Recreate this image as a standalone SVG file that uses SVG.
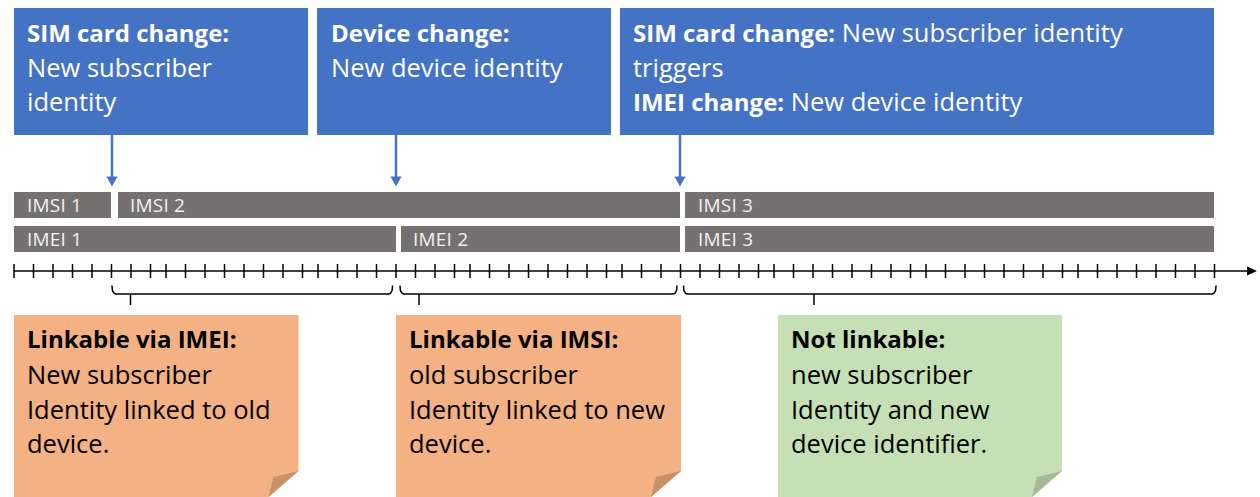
<svg xmlns="http://www.w3.org/2000/svg" width="1260" height="497" viewBox="0 0 1260 497">
<style>
.box{fill:#4472C4}
.bar{fill:#767171}
.bt{font-family:"Open Sans","Liberation Sans",sans-serif;font-size:19px;letter-spacing:0.2px;fill:#F2F2F2}
.wt{font-family:"Open Sans","Liberation Sans",sans-serif;font-size:25.5px;fill:#FFFFFF}
.nt{font-family:"Open Sans","Liberation Sans",sans-serif;font-size:25.5px;fill:#000000}
.b{font-weight:bold;font-size:24px}
.orange{fill:#F4B183}
.ofold{fill:#C8916A}
.green{fill:#C5E0B4}
.gfold{fill:#A2BB93}
.conn{stroke:#4472C4;stroke-width:2.5;fill:none}
.head{fill:#4472C4}
.axis{stroke:#000;stroke-width:1.5;fill:none}
.brace{stroke:#000;stroke-width:1.5;fill:none}
</style>

<g id="box-sim1">
<rect class="box" x="14" y="8" width="294" height="127"/>
<text class="wt" x="27" y="42"><tspan class="b">SIM card change:</tspan></text>
<text class="wt" x="27" y="77">New subscriber</text>
<text class="wt" x="27" y="111">identity</text>
</g>
<g id="box-device">
<rect class="box" x="317" y="8" width="294" height="127"/>
<text class="wt" x="331" y="42"><tspan class="b">Device change:</tspan></text>
<text class="wt" x="331" y="77">New device identity</text>
</g>
<g id="box-sim-imei">
<rect class="box" x="620" y="8" width="594" height="127"/>
<text class="wt" x="633" y="42"><tspan class="b">SIM card change:</tspan> New subscriber identity</text>
<text class="wt" x="633" y="77">triggers</text>
<text class="wt" x="633" y="111"><tspan class="b">IMEI change:</tspan> New device identity</text>
</g>

<g id="connectors">
<line class="conn" x1="112" y1="135" x2="112" y2="178"/>
<polygon class="head" points="106.5,176.5 117.5,176.5 112,186.5"/>
<line class="conn" x1="396" y1="135" x2="396" y2="178"/>
<polygon class="head" points="390.5,176.5 401.5,176.5 396,186.5"/>
<line class="conn" x1="680" y1="135" x2="680" y2="178"/>
<polygon class="head" points="674.5,176.5 685.5,176.5 680,186.5"/>
</g>

<g id="bar-imsi1"><rect class="bar" x="14" y="192" width="97" height="26"/><text class="bt" x="27" y="212">IMSI 1</text></g>
<g id="bar-imsi2"><rect class="bar" x="118" y="192" width="562" height="26"/><text class="bt" x="130" y="212">IMSI 2</text></g>
<g id="bar-imsi3"><rect class="bar" x="685" y="192" width="529" height="26"/><text class="bt" x="698" y="212">IMSI 3</text></g>
<g id="bar-imei1"><rect class="bar" x="14" y="226" width="382" height="26"/><text class="bt" x="27" y="246">IMEI 1</text></g>
<g id="bar-imei2"><rect class="bar" x="401" y="226" width="279" height="26"/><text class="bt" x="413" y="246">IMEI 2</text></g>
<g id="bar-imei3"><rect class="bar" x="685" y="226" width="529" height="26"/><text class="bt" x="698" y="246">IMEI 3</text></g>

<g id="timeline">
<line class="axis" x1="14" y1="271" x2="1249" y2="271"/>
<polygon points="1247,266.5 1257,271 1247,275.5" fill="#000"/>
<path class="axis" d="M14 264v14M33.5 264v14M53 264v14M72.5 264v14M92 264v14M111.5 264v14M131 264v14M150.5 264v14
M166 264v14M185.5 264v14M205 264v14M224.5 264v14M244 264v14M263.5 264v14M283 264v14M302.5 264v14
M318 264v14M337.5 264v14M357 264v14M376.5 264v14M396 264v14M415.5 264v14M435 264v14M454.5 264v14
M470 264v14M489.5 264v14M509 264v14M528.5 264v14M548 264v14M567.5 264v14M587 264v14M606.5 264v14
M622 264v14M641.5 264v14M661 264v14M680.5 264v14M700 264v14M719.5 264v14M739 264v14M758.5 264v14
M774 264v14M793.5 264v14M813 264v14M832.5 264v14M852 264v14M871.5 264v14M891 264v14M910.5 264v14
M926 264v14M945.5 264v14M965 264v14M984.5 264v14M1004 264v14M1023.5 264v14M1043 264v14M1062.5 264v14
M1078 264v14M1097.5 264v14M1117 264v14M1136.5 264v14M1156 264v14M1175.5 264v14M1195 264v14M1214.5 264v14"/>
</g>

<g id="braces">
<path class="brace" d="M112,285.5 Q112,294 116,294 H388.5 Q392.5,294 392.5,285.5 M130.5,294 V305"/>
<path class="brace" d="M400,285.5 Q400,294 404,294 H673 Q677,294 677,285.5 M419,294 V305"/>
<path class="brace" d="M683.5,285.5 Q683.5,294 687.5,294 H1212 Q1216,294 1216,285.5 M814,294 V305"/>
</g>

<g id="note-imei">
<path class="orange" d="M14,315 H298.5 V471 L268.5,497 H14 Z"/>
<polygon class="ofold" points="298.5,471 273.5,477 268.5,497"/>
<text class="nt" x="27" y="348"><tspan class="b">Linkable via IMEI:</tspan></text>
<text class="nt" x="27" y="384">New subscriber</text>
<text class="nt" x="27" y="418.5">Identity linked to old</text>
<text class="nt" x="27" y="453">device.</text>
</g>
<g id="note-imsi">
<path class="orange" d="M396,315 H681 V471 L651,497 H396 Z"/>
<polygon class="ofold" points="681,471 656,477 651,497"/>
<text class="nt" x="409" y="348"><tspan class="b">Linkable via IMSI:</tspan></text>
<text class="nt" x="409" y="384">old subscriber</text>
<text class="nt" x="409" y="418.5">Identity linked to new</text>
<text class="nt" x="409" y="453">device.</text>
</g>
<g id="note-none">
<path class="green" d="M778,315 H1062 V471 L1032,497 H778 Z"/>
<polygon class="gfold" points="1062,471 1037,477 1032,497"/>
<text class="nt" x="791" y="348"><tspan class="b">Not linkable:</tspan></text>
<text class="nt" x="791" y="384">new subscriber</text>
<text class="nt" x="791" y="418.5">Identity and new</text>
<text class="nt" x="791" y="453">device identifier.</text>
</g>
</svg>
